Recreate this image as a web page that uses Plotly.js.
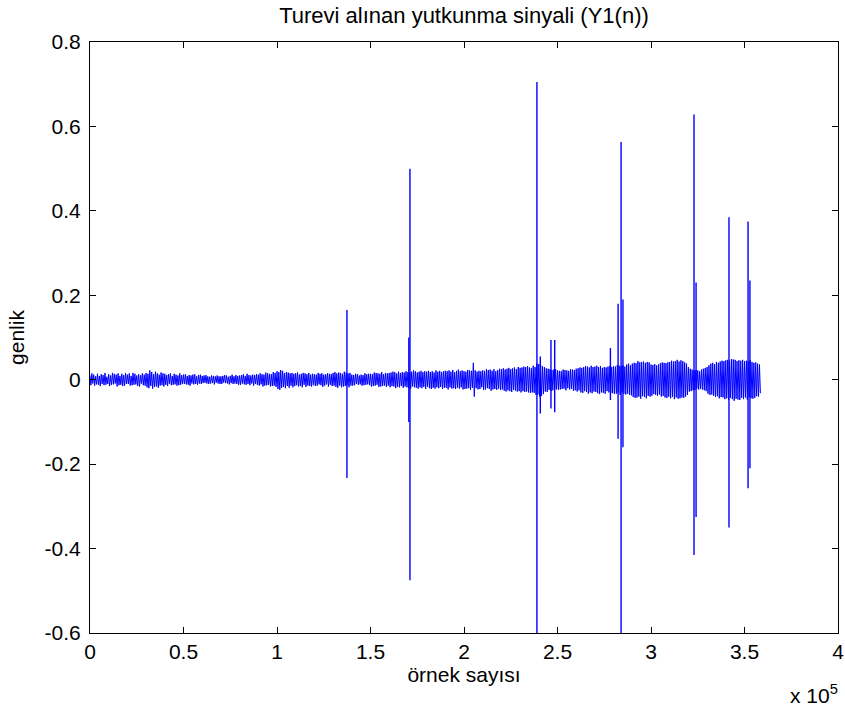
<!DOCTYPE html>
<html><head><meta charset="utf-8">
<script src="https://cdn.plot.ly/plotly-3.0.1.min.js"></script>
<style>html,body{margin:0;padding:0;background:#fff}#chart{width:845px;height:708px}</style>
</head><body><div id="chart"></div>
<script>
// ---- chart texts ----
const chartTitle = "Turevi alınan yutkunma sinyali (Y1(n))";
const xLabel = "örnek sayısı";
const yLabel = "genlik";
const xScaleNote = "x 10<sup>5</sup>";

// ---- axis ticks ----
const xTickVals = [0, 50000, 100000, 150000, 200000, 250000, 300000, 350000, 400000];
const xTickText = ["0", "0.5", "1", "1.5", "2", "2.5", "3", "3.5", "4"];
const yTickVals = [-0.6, -0.4, -0.2, 0, 0.2, 0.4, 0.6, 0.8];
const yTickText = ["-0.6", "-0.4", "-0.2", "0", "0.2", "0.4", "0.6", "0.8"];

// ---- derivative signal: oscillation peaks, one every 500 samples (units of 0.001) ----
const sampleStep = 500;
const signalPeaks = [
  10,-13,15,-9,12,-14,8,-11,14,-12,9,-15,13,-10,11,-13,16,-12,7,-10,
  13,-15,10,-12,16,-11,14,-9,12,-16,15,-13,9,-12,14,-15,11,-14,16,-10,
  12,-10,15,-14,9,-13,16,-12,14,-11,10,-15,13,-16,11,-9,15,-13,12,-14,
  16,-18,14,-20,22,-15,18,-21,13,-17,19,-16,15,-19,12,-14,17,-13,15,-16,
  14,-12,11,-15,13,-10,15,-13,9,-12,14,-11,12,-14,10,-13,15,-12,11,-10,
  12,-10,13,-11,9,-12,11,-14,10,-9,12,-11,13,-10,8,-12,11,-9,12,-10,
  9,-8,10,-7,11,-9,8,-10,7,-9,10,-8,9,-11,8,-7,10,-9,8,-10,
  8,-10,9,-7,11,-8,10,-9,7,-11,9,-8,12,-10,8,-9,11,-10,9,-12,
  10,-12,11,-9,13,-11,9,-12,14,-10,11,-13,10,-9,12,-14,11,-10,13,-12,
  12,-14,15,-11,13,-16,12,-14,17,-13,15,-12,14,-16,13,-15,18,-14,16,-17,
  20,-22,18,-24,23,-19,21,-17,16,-20,18,-15,17,-19,15,-14,16,-18,14,-15,
  15,-13,17,-16,12,-15,14,-18,16,-12,15,-17,13,-14,16,-15,12,-16,14,-13,
  13,-15,12,-14,16,-11,14,-13,15,-17,12,-14,13,-11,15,-16,14,-12,13,-15,
  16,-14,18,-17,15,-19,17,-14,16,-18,14,-16,19,-15,17,-13,15,-18,16,-14,
  12,-14,11,-13,14,-10,13,-12,10,-11,12,-14,11,-13,15,-12,13,-11,14,-13,
  14,-16,13,-15,17,-14,16,-12,15,-17,14,-16,18,-15,13,-14,16,-17,15,-14,
  16,-18,17,-15,19,-16,18,-20,15,-17,19,-18,16,-15,18,-19,17,-16,20,-18,
  18,-20,17,-21,19,-16,22,-18,20,-19,17,-21,19,-18,21,-20,18,-17,20,-22,
  19,-17,21,-20,18,-22,20,-19,17,-21,22,-18,19,-20,21,-17,18,-22,20,-19,
  21,-19,20,-23,22,-18,19,-21,23,-20,18,-22,21,-19,24,-21,20,-18,22,-23,
  20,-22,19,-21,23,-20,22,-24,21,-19,40,-40,22,-20,19,-23,21,-22,20,-18,
  22,-24,21,-23,25,-20,23,-22,24,-26,21,-23,25,-22,20,-24,23,-21,26,-24,
  25,-23,27,-26,24,-28,26,-25,28,-27,25,-29,27,-24,29,-26,25,-28,30,-27,
  28,-30,29,-27,31,-29,30,-28,32,-30,29,-31,27,-30,33,-31,30,-36,38,-35,
  37,-40,35,-38,32,-34,30,-28,27,-29,26,-24,25,-27,23,-25,24,-22,25,-23,
  22,-24,21,-23,20,-22,24,-21,23,-25,22,-20,21,-23,25,-22,24,-26,23,-25,
  26,-28,27,-25,29,-30,28,-31,30,-27,32,-29,31,-33,29,-30,33,-32,30,-28,
  31,-29,33,-32,30,-34,32,-30,28,-31,30,-33,29,-27,31,-30,33,-31,30,-32,
  32,-34,31,-33,35,-30,33,-36,32,-30,34,-33,31,-35,36,-33,38,-36,34,-37,
  38,-41,40,-43,39,-42,44,-40,41,-45,42,-39,43,-41,40,-44,42,-38,41,-40,
  36,-38,35,-34,37,-36,34,-38,36,-35,39,-40,41,-38,40,-42,39,-43,41,-40,
  42,-44,45,-41,43,-46,44,-42,47,-45,43,-44,46,-42,44,-43,41,-40,38,-36,
  30,-28,26,-27,24,-25,22,-24,23,-21,22,-23,20,-22,24,-23,26,-25,28,-27,
  30,-33,34,-36,38,-35,40,-38,37,-41,42,-39,40,-44,43,-41,45,-42,44,-46,
  46,-44,47,-48,45,-43,49,-46,48,-50,47,-45,44,-47,46,-48,45,-43,47,-46,
  44,-42,45,-47,43,-41,46,-44,42,-45,40,-43,41,-39,38,-40,36,-32
];

// ---- swallowing spikes (sample index, peak, trough) ----
const spikeSamples = [137400, 170500, 171100, 239000, 240800, 246500, 248500, 278300, 282400, 284000, 285000, 323000, 324100, 341700, 351900, 352900];
const spikeTops    = [0.165, 0.10, 0.50, 0.705, 0.055, 0.094, 0.094, 0.075, 0.18, 0.563, 0.19, 0.628, 0.23, 0.385, 0.375, 0.235];
const spikeBottoms = [-0.233, -0.10, -0.475, -0.62, -0.08, -0.068, -0.077, -0.048, -0.14, -0.62, -0.16, -0.415, -0.325, -0.35, -0.257, -0.21];

const sigX = signalPeaks.map((v, i) => i * sampleStep);
const sigY = signalPeaks.map(v => v / 1000);

const spX = [], spY = [];
spikeSamples.forEach((s, i) => {
  spX.push(s, s, null);
  spY.push(spikeTops[i], spikeBottoms[i], null);
});

const traces = [
  {x: sigX, y: sigY, type: 'scatter', mode: 'lines', line: {color: '#0000FF', width: 1}, hoverinfo: 'skip', showlegend: false},
  {x: spX, y: spY, type: 'scatter', mode: 'lines', line: {color: '#0000FF', width: 1.4}, connectgaps: false, hoverinfo: 'skip', showlegend: false}
];

const fam = '"Liberation Sans", Arial, Helvetica, sans-serif';
const font = {family: fam, size: 21, color: '#000'};
const layout = {
  width: 845, height: 708,
  margin: {l: 90, r: 7, t: 42, b: 75, pad: 0},
  paper_bgcolor: '#fff', plot_bgcolor: '#fff',
  font: font,
  showlegend: false,
  title: {text: chartTitle, font: {family: fam, size: 22, color: '#000'}, x: 0.5, xref: 'paper', xanchor: 'center', y: 1 - 15/708, yref: 'container', yanchor: 'middle'},
  xaxis: {
    range: [0, 400000], tickvals: xTickVals, ticktext: xTickText,
    showgrid: false, zeroline: false, showline: true, linecolor: '#000', linewidth: 1,
    mirror: 'ticks', ticks: 'inside', ticklen: 6, tickcolor: '#000', tickwidth: 1,
    ticklabelstandoff: 0, tickfont: font, automargin: false,
    title: {text: xLabel, font: font, standoff: 0}
  },
  yaxis: {
    range: [-0.6, 0.8], tickvals: yTickVals, ticktext: yTickText,
    showgrid: false, zeroline: false, showline: true, linecolor: '#000', linewidth: 1,
    mirror: 'ticks', ticks: 'inside', ticklen: 6, tickcolor: '#000', tickwidth: 1,
    ticklabelstandoff: 4, tickfont: font, automargin: false,
    title: {text: yLabel, font: font, standoff: 14}
  },
  annotations: [{
    text: xScaleNote, xref: 'paper', yref: 'paper', x: (840 - 90) / 748, y: (633 - 694) / 591,
    xanchor: 'right', yanchor: 'middle', showarrow: false, font: font
  }]
};

Plotly.newPlot('chart', traces, layout, {displayModeBar: false, staticPlot: true});
</script></body></html>
